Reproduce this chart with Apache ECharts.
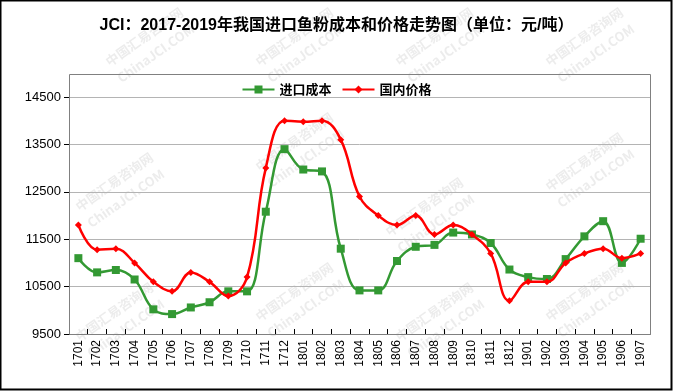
<!DOCTYPE html>
<html>
<head>
<meta charset="utf-8">
<style>
html,body{margin:0;padding:0;background:#fff;}
#c{width:673px;height:391px;}
</style>
<script src="https://cdn.jsdelivr.net/npm/echarts@6/dist/echarts.min.js"></script>
</head>
<body>
<div id="c"></div>
<script>
var categories = ['1701','1702','1703','1704','1705','1706','1707','1708','1709','1710','1711','1712',
  '1801','1802','1803','1804','1805','1806','1807','1808','1809','1810','1811','1812',
  '1901','1902','1903','1904','1905','1906','1907'];
var importCost = [11100,10800,10850,10650,10020,9920,10060,10170,10400,10400,12080,13400,
  12970,12930,11300,10420,10420,11040,11340,11380,11640,11600,11420,10860,
  10700,10660,11080,11560,11880,11000,11510];
var domesticPrice = [11800,11280,11300,11000,10600,10400,10800,10600,10300,10700,13000,14000,
  13980,14000,13600,12400,12000,11800,12000,11600,11800,11600,11200,10200,
  10600,10600,11000,11200,11300,11100,11200];
var yTicks = [9500,10500,11500,12500,13500,14500];

var chart = echarts.init(document.getElementById('c'), null, {renderer:'canvas'});

var wm = [];
var wmPos = [[150,45],[300,45],[440,45],[590,45],[120,190],[300,150],[430,215],[590,170],[120,320],[300,300],[440,320],[590,300]];
wmPos.forEach(function(p){
  wm.push({type:'text', x:p[0], y:p[1], rotation:Math.PI*35/180, z:0,
    style:{text:'中国汇易咨询网\nChinaJCI.COM', fill:'rgba(150,150,150,0.18)', font:'bold 13px "Noto Sans CJK SC", sans-serif', align:'center', verticalAlign:'middle', lineHeight:20}});
});

var option = {
  backgroundColor:'#fff',
  animation:false,
  title:{text:'JCI：2017-2019年我国进口鱼粉成本和价格走势图（单位：元/吨）', left:'center', top:13,
    textStyle:{fontSize:16, fontWeight:'bold', color:'#000', fontFamily:'"Liberation Sans", "Noto Sans CJK SC", sans-serif'}},
  legend:{top:78, left:'center', itemGap:10, itemWidth:32, itemHeight:10,
    textStyle:{fontSize:13, fontWeight:'bold', color:'#000', fontFamily:'"Noto Sans CJK SC", sans-serif'},
    data:['进口成本','国内价格']},
  grid:{left:69, right:23, top:97, bottom:57, containLabel:false},
  graphic:wm.concat([
    {type:'rect', shape:{x:69.5, y:74.5, width:581, height:260}, style:{fill:null, stroke:'#808080', lineWidth:1}, z:1, silent:true},
    {type:'rect', shape:{x:0.5, y:0.5, width:671, height:389}, style:{fill:null, stroke:'#000', lineWidth:2}, z:1, silent:true}
  ]),
  xAxis:{type:'category', data:categories, boundaryGap:true,
    axisLine:{lineStyle:{color:'#000', width:1}},
    axisTick:{show:true, alignWithLabel:false, length:5, inside:true, lineStyle:{color:'#000'}},
    axisLabel:{rotate:90, interval:0, fontSize:12, color:'#000', fontFamily:'"Liberation Sans", Arial, sans-serif', margin:6},
    splitLine:{show:false}},
  yAxis:{type:'value', min:9500, max:14500, interval:1000,
    axisLine:{show:true, lineStyle:{color:'#000'}},
    axisTick:{show:true, length:5, lineStyle:{color:'#000'}},
    axisLabel:{fontSize:13, color:'#000', margin:8, fontFamily:'"Liberation Sans", Arial, sans-serif',
      formatter:function(v){return String(v);}},
    splitLine:{show:true, lineStyle:{color:'#b4b4b4', width:1}}},
  series:[
    {name:'进口成本', type:'line', data:importCost, smooth:0.4, symbol:'rect', symbolSize:8,
      itemStyle:{color:'#339933'}, lineStyle:{color:'#339933', width:2.5}, z:3},
    {name:'国内价格', type:'line', data:domesticPrice, smooth:0.4, symbol:'diamond', symbolSize:7,
      itemStyle:{color:'#ff0000'}, lineStyle:{color:'#ff0000', width:2.5}, z:4}
  ]
};
chart.setOption(option);
</script>
</body>
</html>
